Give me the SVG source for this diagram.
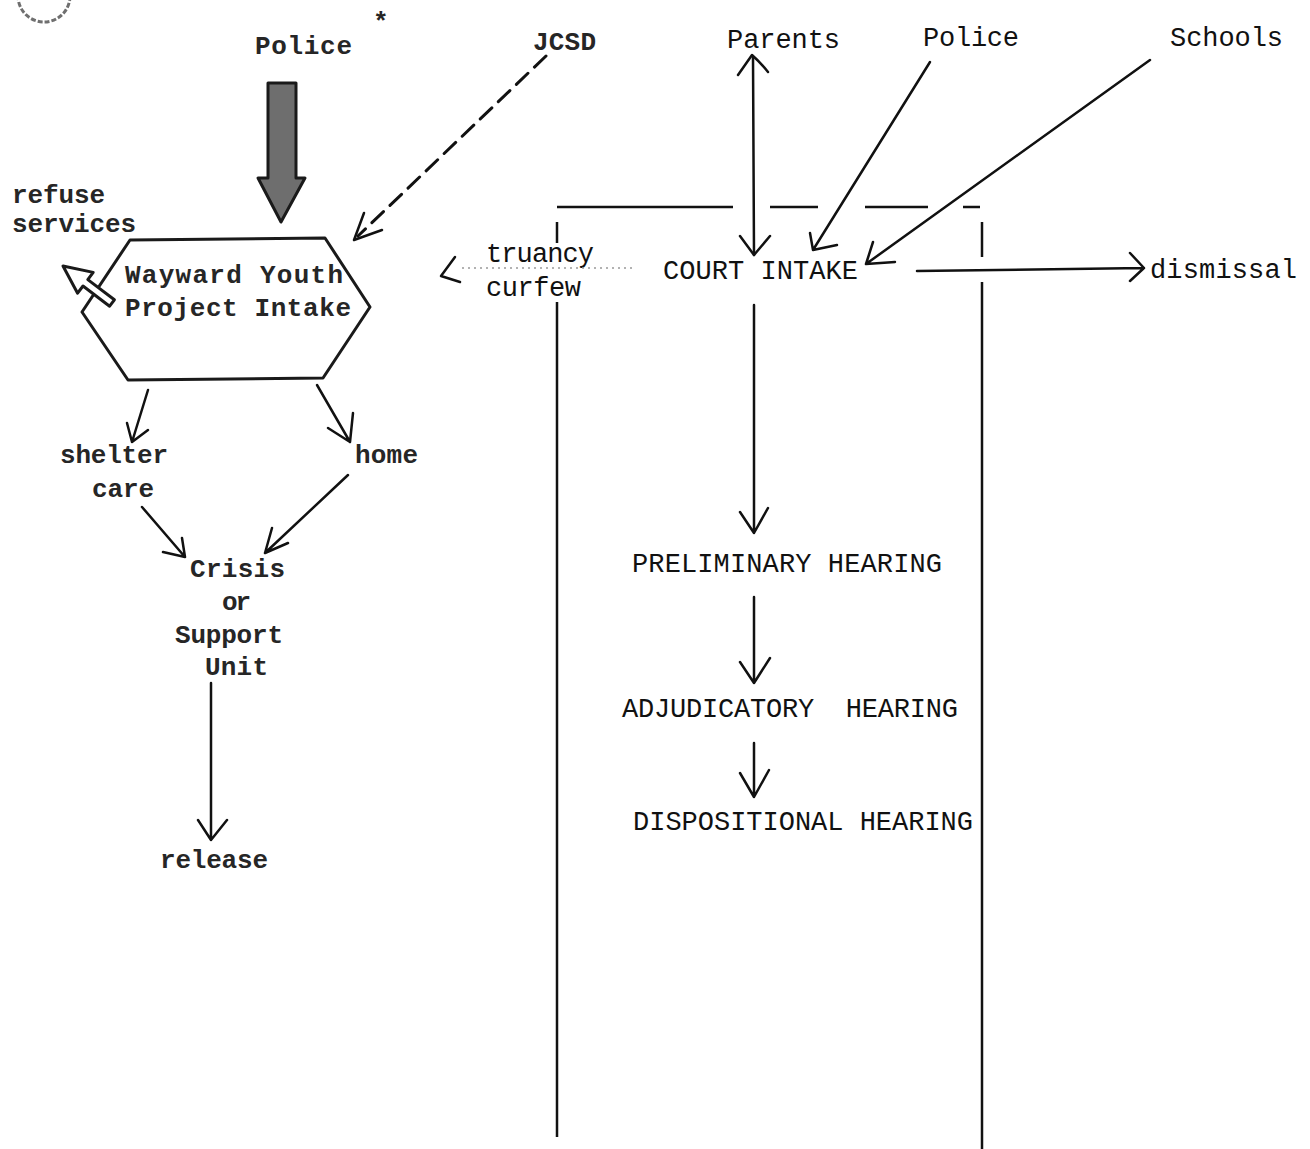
<svg xmlns="http://www.w3.org/2000/svg" width="1310" height="1149" viewBox="0 0 1310 1149">
  <style>
    .bg { fill: #ffffff; }
    .tw { font-family: "Liberation Mono", "DejaVu Sans Mono", monospace; font-size: 27px; fill: #111; white-space: pre; }
    .tb { font-family: "Liberation Mono", "DejaVu Sans Mono", monospace; font-size: 26px; font-weight: bold; fill: #262626; white-space: pre; }
    .ln { fill: none; stroke: #111; stroke-width: 2.5; stroke-linecap: round; stroke-linejoin: round; }
    .border { fill: none; stroke: #111; stroke-width: 2.5; }
    .dash { fill: none; stroke: #111; stroke-width: 3; stroke-dasharray: 16 9; stroke-linecap: round; }
    .dots { fill: none; stroke: #999; stroke-width: 1.5; stroke-dasharray: 2 4; }
  </style>

  <rect class="bg" x="0" y="0" width="1310" height="1149"/>

  <!-- punched hole at the page corner -->
  <circle cx="44" cy="-4" r="26" fill="none" stroke="#6f6f6f" stroke-width="3" stroke-dasharray="5 2"/>

  <!-- court intake bracket -->
  <g id="court-frame">
    <path class="border" d="M557 207 H733 M770 207 H818 M865 207 H928 M963 207 H980"/>
    <path class="border" d="M557 222 V243 M557 302 V1137"/>
    <path class="border" d="M982 222 V257 M982 282 V1149"/>
  </g>

  <!-- sources -->
  <g id="police-left"><text class="tb" x="255" y="54" textLength="97">Police</text>
    <text class="tb" x="373" y="30" font-size="22">*</text></g>
  <g id="jcsd"><text class="tb" x="533" y="50" textLength="63">JCSD</text></g>
  <g id="parents"><text class="tw" x="727" y="48" textLength="113">Parents</text></g>
  <g id="police-right"><text class="tw" x="923" y="46" textLength="96">Police</text></g>
  <g id="schools"><text class="tw" x="1170" y="46" textLength="113">Schools</text></g>

  <!-- Wayward Youth Project -->
  <g id="wyp-intake">
    <polygon points="130,240 325,238 370,307 323,378 128,380 82,312" fill="#fff" stroke="#1a1a1a" stroke-width="3" stroke-linejoin="round"/>
    <text class="tb" x="125" y="283" textLength="218">Wayward Youth</text>
    <text class="tb" x="125" y="316" textLength="226">Project Intake</text>
  </g>
  <g id="refuse-services">
    <text class="tb" x="12" y="203" font-size="23" textLength="93">refuse</text>
    <text class="tb" x="12" y="232" font-size="23" textLength="124">services</text>
  </g>
  <g id="shelter-care">
    <text class="tb" x="60" y="463" textLength="108">shelter</text>
    <text class="tb" x="92" y="497" textLength="62">care</text>
  </g>
  <g id="home"><text class="tb" x="355" y="463" textLength="63">home</text></g>
  <g id="crisis-unit">
    <text class="tb" x="190" y="577" textLength="95">Crisis</text>
    <text class="tb" x="222" y="610" textLength="29">or</text>
    <text class="tb" x="175" y="643" textLength="108">Support</text>
    <text class="tb" x="205" y="675" textLength="63">Unit</text>
  </g>
  <g id="release"><text class="tb" x="160" y="868" textLength="108">release</text></g>

  <!-- court process -->
  <g id="truancy-curfew">
    <text class="tw" x="486" y="262" textLength="108">truancy</text>
    <text class="tw" x="486" y="296" textLength="95">curfew</text>
  </g>
  <g id="court-intake"><text class="tw" x="663" y="279" textLength="195">COURT INTAKE</text></g>
  <g id="dismissal"><text class="tw" x="1150" y="278" textLength="147">dismissal</text></g>
  <g id="preliminary-hearing"><text class="tw" x="632" y="572" textLength="310">PRELIMINARY HEARING</text></g>
  <g id="adjudicatory-hearing"><text class="tw" x="622" y="717" textLength="336">ADJUDICATORY  HEARING</text></g>
  <g id="dispositional-hearing"><text class="tw" x="633" y="830" textLength="340">DISPOSITIONAL HEARING</text></g>

  <g id="connectors">
    <!-- police referral, heavy arrow -->
    <polygon points="268,83 296,83 296,178 305,178 281,222 258,178 268,178" fill="#6e6e6e" stroke="#1a1a1a" stroke-width="3" stroke-linejoin="round"/>
    <!-- JCSD, dashed -->
    <path class="dash" d="M546 56 L358 236"/>
    <path class="ln" d="M382 230 L354 240 L364 213" stroke-width="3"/>
    <!-- refuse services, hollow arrow -->
    <polygon points="63,266 93.2,272.4 87.8,279.6 114.4,299.8 109.6,306.2 83,286 77.6,293.2" fill="#fff" stroke="#1a1a1a" stroke-width="3" stroke-linejoin="round"/>
    <!-- intake to shelter care / home -->
    <path class="ln" d="M148 390 L132 442 M127 423 L132 442 L148 430"/>
    <path class="ln" d="M317 385 L350 442 M328 428 L350 442 L353 413"/>
    <!-- into crisis unit -->
    <path class="ln" d="M142 507 L185 557 M163 552 L185 557 L182 538"/>
    <path class="ln" d="M348 475 L265 553 M272 528 L265 553 L288 543"/>
    <!-- crisis unit to release -->
    <path class="ln" d="M211 683 L211 840 M198 820 L211 840 L227 820"/>

    <!-- parents, two-way -->
    <path class="ln" d="M753 57 L754 255"/>
    <path class="ln" d="M738 75 L752 55 Q760 62 768 72"/>
    <path class="ln" d="M740 236 L754 255 L770 236"/>
    <!-- police and schools into court intake -->
    <path class="ln" d="M930 62 L813 250 M810 233 L813 250 L837 245"/>
    <path class="ln" d="M1150 60 L866 264 M873 242 L866 264 L895 262"/>
    <!-- truancy / curfew diverted -->
    <path class="dots" d="M462 268 H634"/>
    <path class="ln" d="M455 257 L441 276 L460 282"/>
    <!-- dismissal -->
    <path class="ln" d="M917 271 L1144 268 M1130 253 L1144 268 L1130 281"/>
    <!-- hearing sequence -->
    <path class="ln" d="M754 305 L754 533 M740 512 L754 533 L768 508"/>
    <path class="ln" d="M754 597 L754 683 M740 662 L754 683 L770 658"/>
    <path class="ln" d="M754 743 L754 797 M740 773 L754 797 L769 770"/>
  </g>
</svg>
